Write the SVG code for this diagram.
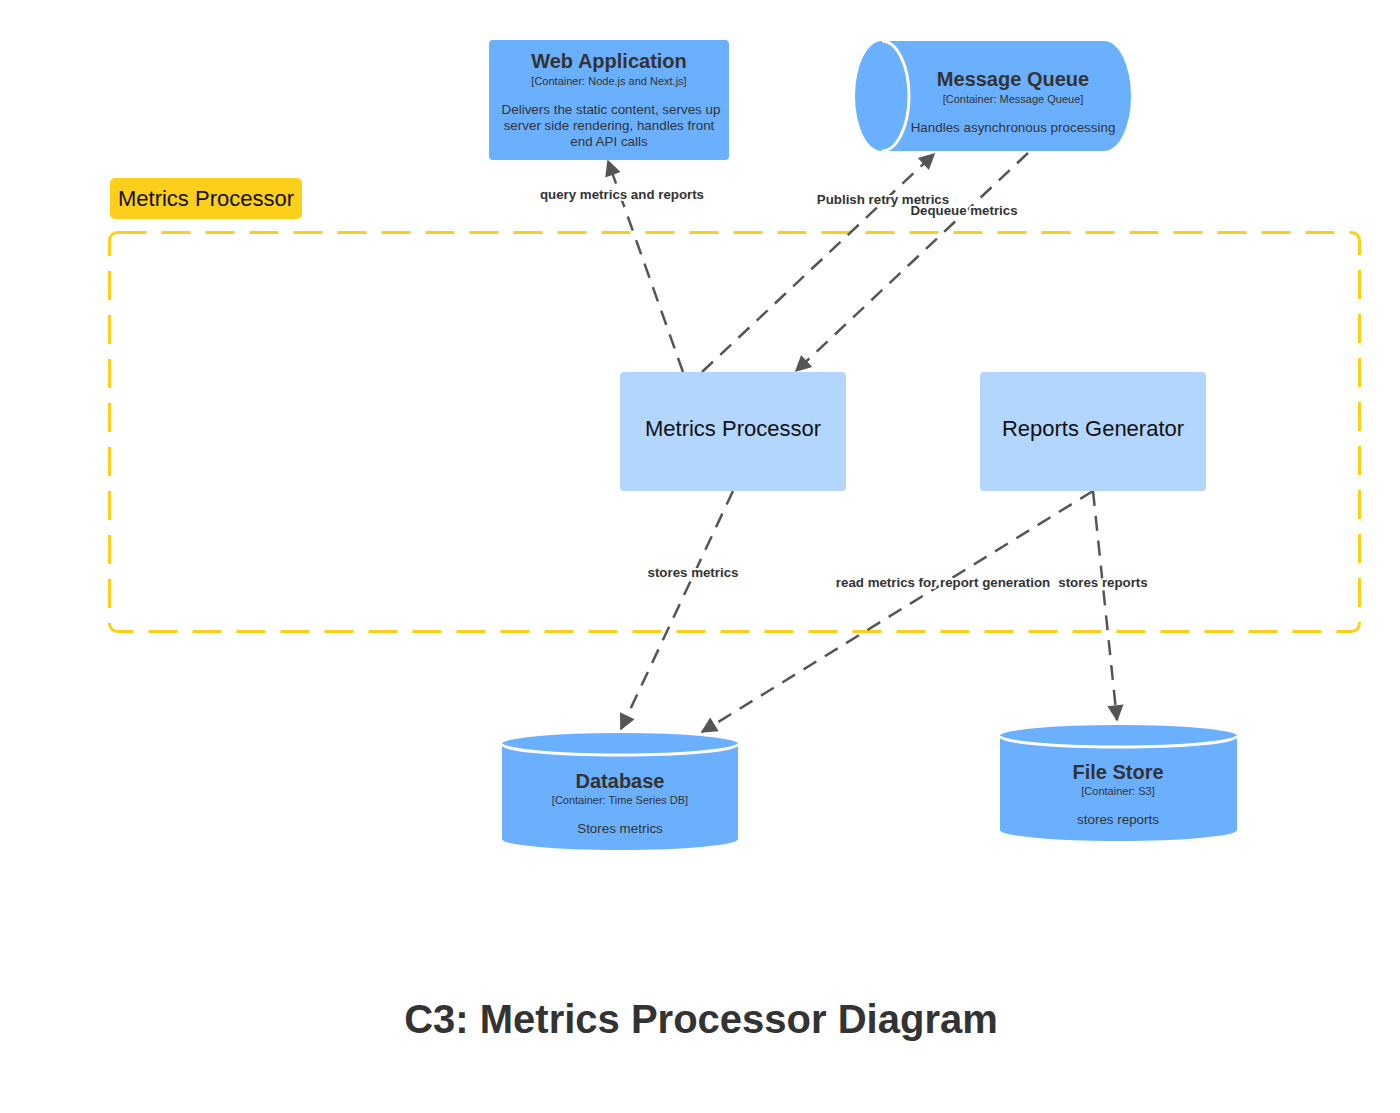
<svg xmlns="http://www.w3.org/2000/svg" width="1400" height="1113" viewBox="0 0 1400 1113">
<defs>
<style>
text{font-family:"Liberation Sans",Arial,sans-serif;text-anchor:middle}
.cont{fill:#6BB0FF}
.comp{fill:#B3D6FF}
.t{font-size:20px;font-weight:bold;fill:#333}
.s{font-size:11px;fill:#333}
.d{font-size:13.4px;fill:#333}
.ct{font-size:22px;fill:#111}
.lbl{font-size:13.3px;font-weight:bold;fill:#333;stroke:#fff;stroke-width:4;paint-order:stroke;stroke-linejoin:round}
.edge{fill:none;stroke:#555;stroke-width:2.5;stroke-dasharray:15 10}
.wl{fill:none;stroke:#fff;stroke-width:3}
</style>
<marker id="arr" viewBox="0 0 10 10" refX="9" refY="5" markerWidth="7.5" markerHeight="6.5" markerUnits="strokeWidth" orient="auto">
<path d="M0,0 L10,5 L0,10 z" fill="#555"/>
</marker>
</defs>
<rect width="1400" height="1113" fill="#fff"/>

<g id="boundary">
<rect x="109.5" y="232.5" width="1250" height="399" rx="8" fill="none" stroke="#FDCE1A" stroke-width="3" stroke-dasharray="29 15"/>
<rect x="110" y="178" width="192" height="41" rx="5" fill="#FDCE1A"/>
<text x="206" y="206" style="font-size:22px;fill:#111">Metrics Processor</text>
</g>

<g id="connectors">
<line class="edge" x1="683" y1="372" x2="608" y2="161" marker-end="url(#arr)"/>
<line class="edge" x1="702" y1="372" x2="934" y2="154" marker-end="url(#arr)"/>
<line class="edge" x1="1028" y1="153" x2="796" y2="371" marker-end="url(#arr)"/>
<line class="edge" x1="733" y1="491" x2="621" y2="729" marker-end="url(#arr)"/>
<line class="edge" x1="1093" y1="491" x2="702" y2="732" marker-end="url(#arr)"/>
<line class="edge" x1="1093" y1="491" x2="1117" y2="720" marker-end="url(#arr)"/>
<text class="lbl" x="622" y="199">query metrics and reports</text>
<text class="lbl" x="883" y="204">Publish retry metrics</text>
<text class="lbl" x="964" y="215">Dequeue metrics</text>
<text class="lbl" x="693" y="577">stores metrics</text>
<text class="lbl" x="943" y="587">read metrics for report generation</text>
<text class="lbl" x="1103" y="587">stores reports</text>
</g>

<g id="web-application">
<rect class="cont" x="489" y="40" width="240" height="120" rx="4"/>
<text class="t" x="609" y="68">Web Application</text>
<text class="s" x="609" y="85">[Container: Node.js and Next.js]</text>
<text class="d" x="611" y="114">Delivers the static content, serves up</text>
<text class="d" x="609" y="130">server side rendering, handles front</text>
<text class="d" x="609" y="146">end API calls</text>
</g>

<g id="message-queue">
<path class="cont" d="M882,41 H1104 A27,55 0 0 1 1104,151 H882 A27,55 0 0 1 882,41 z"/>
<path class="wl" d="M882,41 A27,55 0 0 1 882,151"/>
<text class="t" x="1013" y="86">Message Queue</text>
<text class="s" x="1013" y="103">[Container: Message Queue]</text>
<text class="d" x="1013" y="132">Handles asynchronous processing</text>
</g>

<g id="metrics-processor">
<rect class="comp" x="620" y="372" width="226" height="119" rx="4"/>
<text class="ct" x="733" y="436">Metrics Processor</text>
</g>

<g id="reports-generator">
<rect class="comp" x="980" y="372" width="226" height="119" rx="4"/>
<text class="ct" x="1093" y="436">Reports Generator</text>
</g>

<g id="database">
<path class="cont" d="M502,744 A118,11 0 0 1 738,744 V839 A118,11 0 0 1 502,839 z"/>
<path class="wl" d="M502,744 A118,11 0 0 0 738,744"/>
<text class="t" x="620" y="788">Database</text>
<text class="s" x="620" y="804">[Container: Time Series DB]</text>
<text class="d" x="620" y="833">Stores metrics</text>
</g>

<g id="file-store">
<path class="cont" d="M1000,736 A118.5,11 0 0 1 1237,736 V830 A118.5,11 0 0 1 1000,830 z"/>
<path class="wl" d="M1000,736 A118.5,11 0 0 0 1237,736"/>
<text class="t" x="1118" y="779">File Store</text>
<text class="s" x="1118" y="795">[Container: S3]</text>
<text class="d" x="1118" y="824">stores reports</text>
</g>

<text x="701" y="1033" style="font-size:40px;font-weight:bold;fill:#333">C3: Metrics Processor Diagram</text>
</svg>
